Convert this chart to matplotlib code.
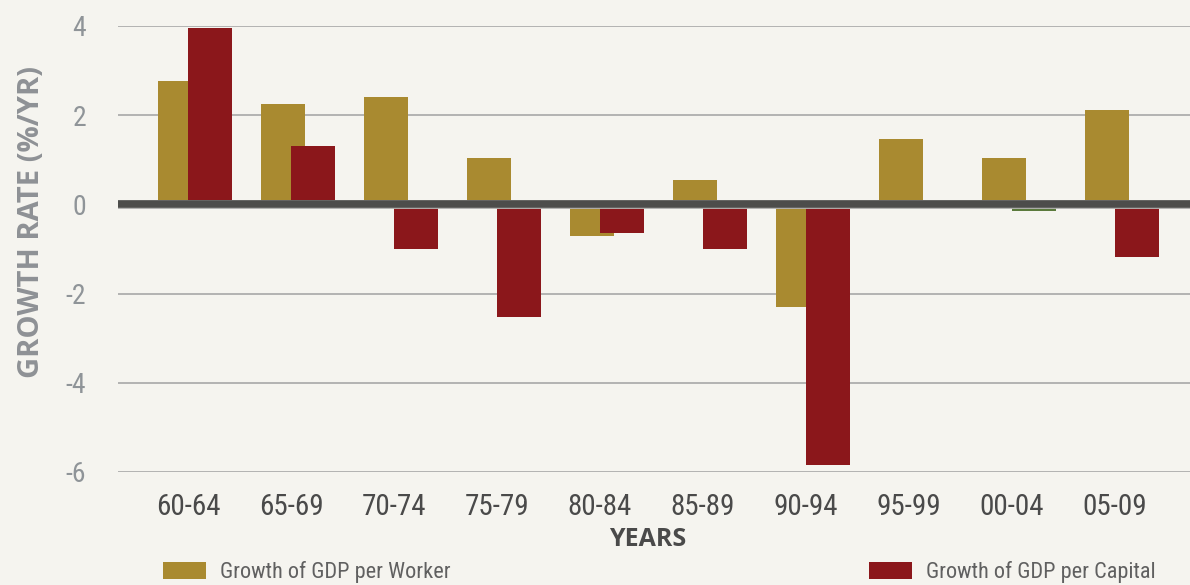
import matplotlib
matplotlib.use("Agg")
import matplotlib.pyplot as plt
import numpy as np

periods = ["60-64", "65-69", "70-74", "75-79", "80-84", "85-89", "90-94", "95-99", "00-04", "05-09"]
gdp_per_worker = [2.76, 2.24, 2.40, 1.03, -0.70, 0.54, -2.29, 1.46, 1.03, 2.11]
gdp_per_capital = [3.95, 1.32, -1.01, -2.53, -0.65, -1.01, -5.85, 0.0, -0.15, -1.17]
y_ticks = [-6, -4, -2, 0, 2, 4]

BG = "#f5f4ef"
GOLD = "#a98a30"
RED = "#8b171b"
GREEN = "#5b7a3c"
NARROW = ["Roboto Condensed", "Asap Condensed", "Barlow Semi Condensed", "DejaVu Sans"]
BOLD = ["Open Sans", "DejaVu Sans"]

W, H = 1190, 585
fig = plt.figure(figsize=(W / 100, H / 100), dpi=100, facecolor=BG)
ax = fig.add_axes([118 / W, 1 - 472 / H, (W - 118) / W, (472 - 26) / H], facecolor=BG)

x = np.arange(len(periods))
width = 0.427
wb = ax.bar(x - 0.291, gdp_per_worker, width, align="edge", color=GOLD, zorder=2,
            label="Growth of GDP per Worker")
cap_colors = [RED] * len(periods)
cap_colors[periods.index("00-04")] = GREEN
cb = ax.bar(x, gdp_per_capital, width, align="edge", color=cap_colors, zorder=3,
            label="Growth of GDP per Capital")

ax.set_xlim(-0.68, 9.73)
ax.set_ylim(-6, 4)
ax.set_yticks(y_ticks)
ax.set_yticklabels([str(v) for v in y_ticks], family=NARROW, fontsize=20, color="#8f9498")
ax.set_xticks(x)
ax.set_xticklabels(periods, family=NARROW, fontsize=21, color="#4a4a4a")
ax.tick_params(axis="both", length=0)
ax.tick_params(axis="y", pad=23)
ax.tick_params(axis="x", pad=15)
for s in ax.spines.values():
    s.set_visible(False)
ax.grid(axis="y", color="#a8a8a8", linewidth=1.2, zorder=1)
ax.set_axisbelow(True)
ax.axhline(0, color="#b0b0ae", linewidth=6.4, zorder=4)
ax.axhline(0, color="#4d4d4b", linewidth=5.4, zorder=5)

ax.set_ylabel("GROWTH RATE (%/YR)", fontsize=21, fontweight="bold", color="#8e9195",
              family=BOLD)
ax.yaxis.set_label_coords(-(118 - 46) / (W - 118), (472 - 222) / (472 - 26))
fig.text(648 / W, 1 - 540 / H, "YEARS", ha="center", va="center", fontsize=18,
         fontweight="bold", color="#4a4a4a", family=BOLD)

for handle, x0 in [(wb, 163), (cb, 869)]:
    fig.legend(handles=[handle], loc="lower left", bbox_to_anchor=(x0 / W, 1 - 583 / H),
               frameon=False, borderpad=0, borderaxespad=0, handlelength=1.95,
               handleheight=0.8, handletextpad=0.6,
               prop={"family": NARROW, "size": 16}, labelcolor="#606060")

fig.savefig("out.png", dpi=100, facecolor=BG)
